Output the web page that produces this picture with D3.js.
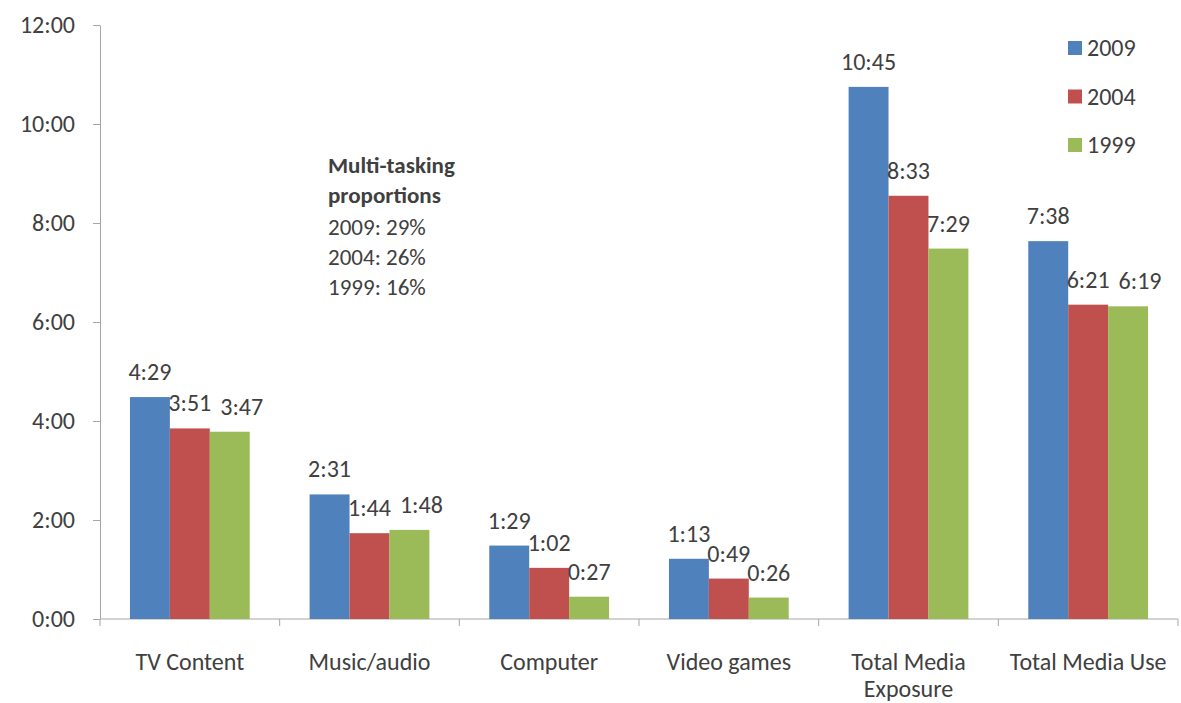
<!DOCTYPE html>
<html>
<head>
<meta charset="utf-8">
<script src="https://cdn.jsdelivr.net/npm/d3@7"></script>
<style>
  body { margin: 0; background: #fff; }
  svg text { font-family: Carlito, Lato, "Open Sans", sans-serif; fill: #404040; }
</style>
</head>
<body>
<div id="chart"></div>
<script>
// Chart data (times are h:mm)
const categories = ["TV Content", "Music/audio", "Computer", "Video games", "Total Media Exposure", "Total Media Use"];
const years = ["2009", "2004", "1999"];
const values2009 = ["4:29", "2:31", "1:29", "1:13", "10:45", "7:38"];
const values2004 = ["3:51", "1:44", "1:02", "0:49", "8:33", "6:21"];
const values1999 = ["3:47", "1:48", "0:27", "0:26", "7:29", "6:19"];
const yTicks = [0, 2, 4, 6, 8, 10, 12];
const noteTitle = ["Multi-tasking", "proportions"];
const noteLines = ["2009: 29%", "2004: 26%", "1999: 16%"];

const colors = ["#4f81bd", "#c0504d", "#9bbb59"];
const seriesValues = [values2009, values2004, values1999];

const toHours = s => { const [h, m] = s.split(":"); return +h + (+m) / 60; };

const W = 1181, H = 703;
const margin = { top: 25, right: 3, bottom: 84, left: 100 };
const width = W - margin.left - margin.right,
      height = H - margin.top - margin.bottom;
const fontSize = "24px";

const svg = d3.select("#chart")
    .append("svg")
    .attr("width", W)
    .attr("height", H);

const g = svg.append("g")
    .attr("transform", `translate(${margin.left},${margin.top})`);

// Scales
const x = d3.scaleBand()
    .domain(categories)
    .range([0, width])
    .paddingInner(0)
    .paddingOuter(0);

const xs = d3.scaleBand()
    .domain(years)
    .range([0, x.bandwidth()])
    .paddingInner(0)
    .paddingOuter(0.75);

const y = d3.scaleLinear()
    .domain([0, 12])
    .range([height, 0]);

// Y axis
const yAxis = g.append("g")
    .call(d3.axisLeft(y)
        .tickValues(yTicks)
        .tickFormat(d => d + ":00")
        .tickSize(7)
        .tickSizeOuter(0)
        .tickPadding(18));
yAxis.select(".domain").attr("stroke", "#a6a6a6");
yAxis.selectAll(".tick line").attr("stroke", "#a6a6a6");
yAxis.selectAll(".tick text")
    .style("font-size", fontSize)
    .attr("fill", "#404040");

// X axis line and category tick marks between groups
g.append("line")
    .attr("x1", 0).attr("x2", width)
    .attr("y1", height).attr("y2", height)
    .attr("stroke", "#a6a6a6");

const bounds = categories.map(c => x(c)).concat([width]);
g.selectAll(".xtick")
    .data(bounds)
    .join("line")
    .attr("class", "xtick")
    .attr("x1", d => d).attr("x2", d => d)
    .attr("y1", height).attr("y2", height + 7)
    .attr("stroke", "#a6a6a6");

// Category labels (wrapped)
const xLabels = g.selectAll(".xlabel")
    .data(categories)
    .join("text")
    .attr("class", "xlabel")
    .attr("text-anchor", "middle")
    .attr("x", d => x(d) + x.bandwidth() / 2)
    .attr("y", height + 51)
    .style("font-size", fontSize);

xLabels.each(function(d) {
    const el = d3.select(this);
    const words = d.split(" ");
    let line = [];
    let tspan = el.append("tspan").attr("x", el.attr("x")).attr("dy", 0);
    words.forEach(w => {
        line.push(w);
        tspan.text(line.join(" "));
        if (tspan.node().getComputedTextLength() > x.bandwidth() - 2 && line.length > 1) {
            line.pop();
            tspan.text(line.join(" "));
            line = [w];
            tspan = el.append("tspan").attr("x", el.attr("x")).attr("dy", 27).text(w);
        }
    });
});

// Bars
const groups = g.selectAll(".cat")
    .data(categories)
    .join("g")
    .attr("class", "cat")
    .attr("transform", d => `translate(${x(d)},0)`);

const barData = (c, i) => years.map((yr, k) => ({
    year: yr, k, label: seriesValues[k][i], value: toHours(seriesValues[k][i])
}));

groups.selectAll("rect")
    .data(barData)
    .join("rect")
    .attr("x", d => xs(d.year))
    .attr("y", d => y(d.value))
    .attr("width", xs.bandwidth())
    .attr("height", d => height - y(d.value))
    .attr("fill", d => colors[d.k]);

// Data labels above bars, nudged right when they collide with the previous label
const gap = 9;
groups.each(function(c, i) {
    const grp = d3.select(this);
    let prev = null;
    barData(c, i).forEach(d => {
        const t = grp.append("text")
            .attr("text-anchor", "middle")
            .attr("x", xs(d.year) + xs.bandwidth() / 2)
            .attr("y", y(d.value) - 17)
            .style("font-size", fontSize)
            .text(d.label);
        let bb = t.node().getBBox();
        if (prev && bb.x < prev.x + prev.width + gap &&
            bb.y < prev.y + prev.height - 14 && bb.y + bb.height > prev.y + 14) {
            const shift = prev.x + prev.width + gap - bb.x;
            t.attr("x", +t.attr("x") + shift);
            bb = t.node().getBBox();
        }
        prev = bb;
    });
});

// Legend
const legend = g.append("g")
    .attr("transform", `translate(${width - 110}, 0)`);

years.forEach((yr, k) => {
    legend.append("rect")
        .attr("x", 0)
        .attr("y", 16 + k * 48.5)
        .attr("width", 14)
        .attr("height", 14)
        .attr("fill", colors[k]);
    legend.append("text")
        .attr("x", 19)
        .attr("y", 23 + k * 48.5)
        .attr("dy", "0.35em")
        .style("font-size", fontSize)
        .text(yr);
});

// Multi-tasking note
const note = g.append("text")
    .attr("x", 228)
    .attr("y", 148)
    .style("font-size", "23px");
noteTitle.forEach((s, i) => {
    note.append("tspan")
        .attr("x", 228)
        .attr("dy", i === 0 ? 0 : 30)
        .style("font-weight", "bold")
        .text(s);
});
noteLines.forEach((s, i) => {
    note.append("tspan")
        .attr("x", 228)
        .attr("dy", i === 0 ? 32 : 30)
        .text(s);
});
</script>
</body>
</html>
